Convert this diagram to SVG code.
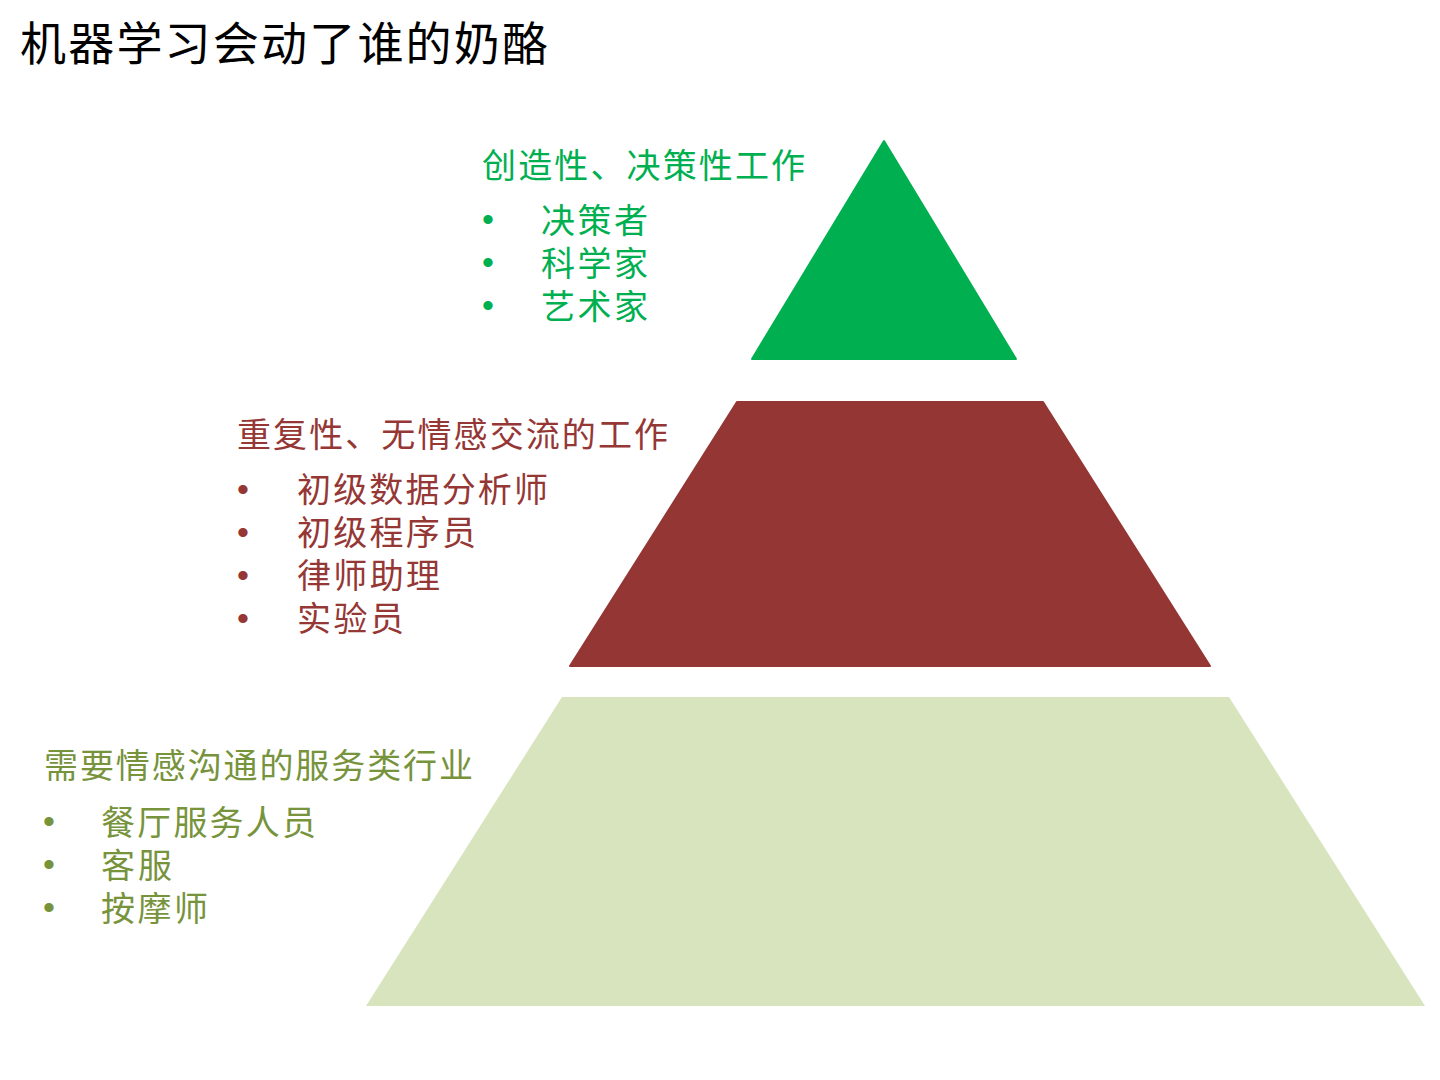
<svg xmlns="http://www.w3.org/2000/svg" width="1440" height="1080" viewBox="0 0 1440 1080">
<style>
text{font-family:"Liberation Sans","Noto Sans CJK SC",sans-serif;}
.title{font-size:46px;fill:#000;}
.h{font-size:34px;}
.i{font-size:34px;}
.b{font-size:34px;text-anchor:middle;}
.g{fill:#00B050;}
.r{fill:#953735;}
.o{fill:#77933C;}
</style>
<rect width="1440" height="1080" fill="#fff"/>
<text class="title" x="20" y="60" textLength="528" lengthAdjust="spacing">机器学习会动了谁的奶酪</text>
<g id="top">
<polygon points="884,141 1016,359 752,359" fill="#00B050" stroke="#00B050" stroke-width="2" stroke-linejoin="round"/>
<text class="h g" x="482" y="178" textLength="323" lengthAdjust="spacing">创造性、决策性工作</text>
<text class="b g" x="488" y="231">•</text><text class="i g" x="541" y="233" textLength="107" lengthAdjust="spacing">决策者</text>
<text class="b g" x="488" y="274">•</text><text class="i g" x="541" y="276" textLength="107" lengthAdjust="spacing">科学家</text>
<text class="b g" x="488" y="317">•</text><text class="i g" x="541" y="319" textLength="107" lengthAdjust="spacing">艺术家</text>
</g>
<g id="middle">
<polygon points="737,402 1043,402 1210,666 570,666" fill="#943634" stroke="#943634" stroke-width="2" stroke-linejoin="round"/>
<text class="h r" x="237" y="447" textLength="431" lengthAdjust="spacing">重复性、无情感交流的工作</text>
<text class="b r" x="243" y="501">•</text><text class="i r" x="297" y="502" textLength="251" lengthAdjust="spacing">初级数据分析师</text>
<text class="b r" x="243" y="544">•</text><text class="i r" x="297" y="545" textLength="179" lengthAdjust="spacing">初级程序员</text>
<text class="b r" x="243" y="587">•</text><text class="i r" x="297" y="588" textLength="143" lengthAdjust="spacing">律师助理</text>
<text class="b r" x="243" y="630">•</text><text class="i r" x="297" y="631" textLength="107" lengthAdjust="spacing">实验员</text>
</g>
<g id="bottom">
<polygon points="562,697 1229,697 1425,1006 366,1006" fill="#D7E4BD"/>
<text class="h o" x="44" y="778" textLength="429" lengthAdjust="spacing">需要情感沟通的服务类行业</text>
<text class="b o" x="49" y="833">•</text><text class="i o" x="101" y="835" textLength="215" lengthAdjust="spacing">餐厅服务人员</text>
<text class="b o" x="49" y="876">•</text><text class="i o" x="101" y="878" textLength="71" lengthAdjust="spacing">客服</text>
<text class="b o" x="49" y="919">•</text><text class="i o" x="101" y="921" textLength="107" lengthAdjust="spacing">按摩师</text>
</g>
<g id="connectors"></g>
</svg>
